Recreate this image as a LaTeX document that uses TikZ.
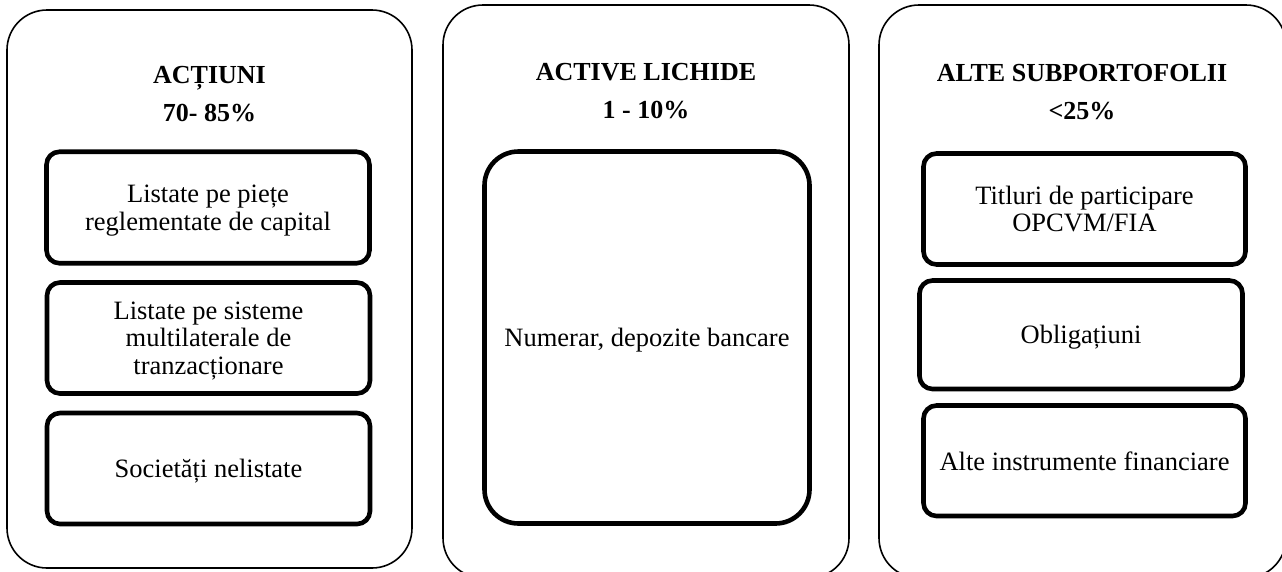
\documentclass[tikz,border=0pt]{standalone}
\usepackage{fontspec}
\setmainfont{Liberation Serif}
\begin{document}
\begin{tikzpicture}[x=1pt, y=-1pt,
  panel/.style={draw, line width=1.6pt, rounded corners=40pt, inner sep=0pt},
  item/.style={draw, line width=4.6pt, rounded corners=13pt, align=center,
    inner sep=0pt, text depth=-6pt, font=\fontsize{26.5}{27.5}\selectfont},
  head/.style={anchor=base, inner sep=0pt, font=\fontsize{26}{28}\selectfont\bfseries}]
\useasboundingbox (0,0) rectangle (1282,571);
\clip (0,0) rectangle (1282,571);

% outer panels
\node[panel, minimum width=405pt, minimum height=558pt] (p1) at (209.5,289) {};
\node[panel, minimum width=406pt, minimum height=573pt] (p2) at (646,291.5) {};
\node[panel, minimum width=407pt, minimum height=573pt] (p3) at (1082.5,291.5) {};

% headings
\node[head] (h1) at (209.5,83) {ACȚIUNI};
\node[head] (h1b) at (209.5,121) {70- 85\%};
\node[head] (h2) at (646,80) {ACTIVE LICHIDE};
\node[head] (h2b) at (646,118) {1 - 10\%};
\node[head] (h3) at (1082,81) {ALTE SUBPORTOFOLII};
\node[head] (h3b) at (1082,119) {<25\%};

% first panel items
\node[item, minimum width=323pt, minimum height=111.5pt] (a1) at (208,207.5)
  {Listate pe piețe\\reglementate de capital};
\node[item, minimum width=323pt, minimum height=111pt] (a2) at (208.5,338)
  {Listate pe sisteme\\multilaterale de\\tranzacționare};
\node[item, minimum width=323pt, minimum height=111pt] (a3) at (208.5,468.5)
  {Societăți nelistate};

% second panel item
\node[item, rounded corners=34pt, minimum width=325pt, minimum height=372pt] (b1) at (647,337.5)
  {Numerar, depozite bancare};

% third panel items
\node[item, minimum width=322pt, minimum height=111pt] (c1) at (1084.5,209)
  {Titluri de participare\\OPCVM/FIA};
\node[item, minimum width=323pt, minimum height=108.5pt] (c2) at (1081,334.75)
  {Obligațiuni};
\node[item, minimum width=322pt, minimum height=110.5pt] (c3) at (1084.5,460.75)
  {Alte instrumente financiare};
\end{tikzpicture}
\end{document}
